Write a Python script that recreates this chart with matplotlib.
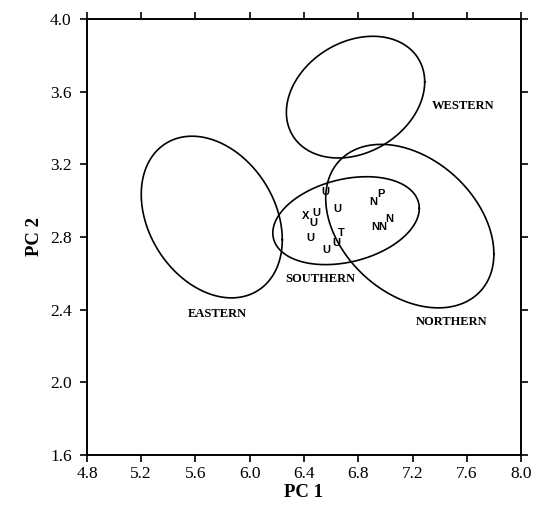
"""PCA scores with group ellipses (Western, Eastern, Southern, Northern)."""

import matplotlib
matplotlib.use("Agg")
import matplotlib.pyplot as plt
import numpy as np

# group ellipses: centre, half-range along each axis, correlation
groups = ["WESTERN", "EASTERN", "SOUTHERN", "NORTHERN"]
center_x = [6.78, 5.72, 6.71, 7.18]
center_y = [3.57, 2.91, 2.89, 2.86]
half_x = [0.51, 0.52, 0.54, 0.62]
half_y = [0.335, 0.445, 0.242, 0.45]
rho = [0.25, -0.28, 0.28, -0.34]

label_x = [7.57, 5.76, 6.52, 7.49]
label_y = [3.52, 2.375, 2.57, 2.33]

# individual specimens
point_codes = ["U", "X", "U", "U", "U", "U", "U", "U", "T",
               "N", "P", "N", "N", "N"]
pc1 = [6.555, 6.415, 6.49, 6.47, 6.646, 6.445, 6.563, 6.641, 6.673,
       6.912, 6.965, 6.924, 6.98, 7.03]
pc2 = [3.05, 2.916, 2.93, 2.879, 2.953, 2.793, 2.729, 2.766, 2.824,
       2.995, 3.037, 2.854, 2.854, 2.898]

serif = ["Liberation Serif", "DejaVu Serif"]

fig = plt.figure(figsize=(5.33, 5.27), dpi=100)
ax = fig.add_axes([0.1632, 0.1366, 0.8143, 0.8273])

t = np.linspace(0, 2 * np.pi, 400)
for cx, cy, hx, hy, r in zip(center_x, center_y, half_x, half_y, rho):
    delta = np.arccos(r)
    ax.plot(cx + hx * np.cos(t), cy + hy * np.cos(t - delta),
            color="black", lw=1.2)

for name, lx, ly in zip(groups, label_x, label_y):
    ax.text(lx, ly, name, ha="center", va="center", fontsize=9,
            family=serif, fontweight="semibold")

for code, x, y in zip(point_codes, pc1, pc2):
    ax.text(x, y, code, ha="center", va="center", fontsize=8,
            family="Liberation Sans", fontweight="bold")

ax.set_xlim(4.8, 8.0)
ax.set_ylim(1.6, 4.0)
ax.set_xticks(np.arange(4.8, 8.01, 0.4))
ax.set_yticks(np.arange(1.6, 4.01, 0.4))
ax.set_xticklabels([f"{v:.1f}" for v in np.arange(4.8, 8.01, 0.4)])
ax.set_yticklabels([f"{v:.1f}" for v in np.arange(1.6, 4.01, 0.4)])
ax.tick_params(direction="out", length=5, width=1.2, top=True, right=True,
               labeltop=False, labelright=False, labelsize=12.5)
ax.tick_params(axis="x", pad=3)
ax.tick_params(axis="y", pad=6)
for lab in ax.get_xticklabels() + ax.get_yticklabels():
    lab.set_family(serif)
for sp in ax.spines.values():
    sp.set_linewidth(1.4)

ax.set_xlabel("PC 1", fontsize=13.5, family=serif, fontweight="bold",
              labelpad=1)
ax.set_ylabel("PC 2", fontsize=13.5, family=serif, fontweight="bold",
              labelpad=5)

fig.savefig("out.png", dpi=100)
